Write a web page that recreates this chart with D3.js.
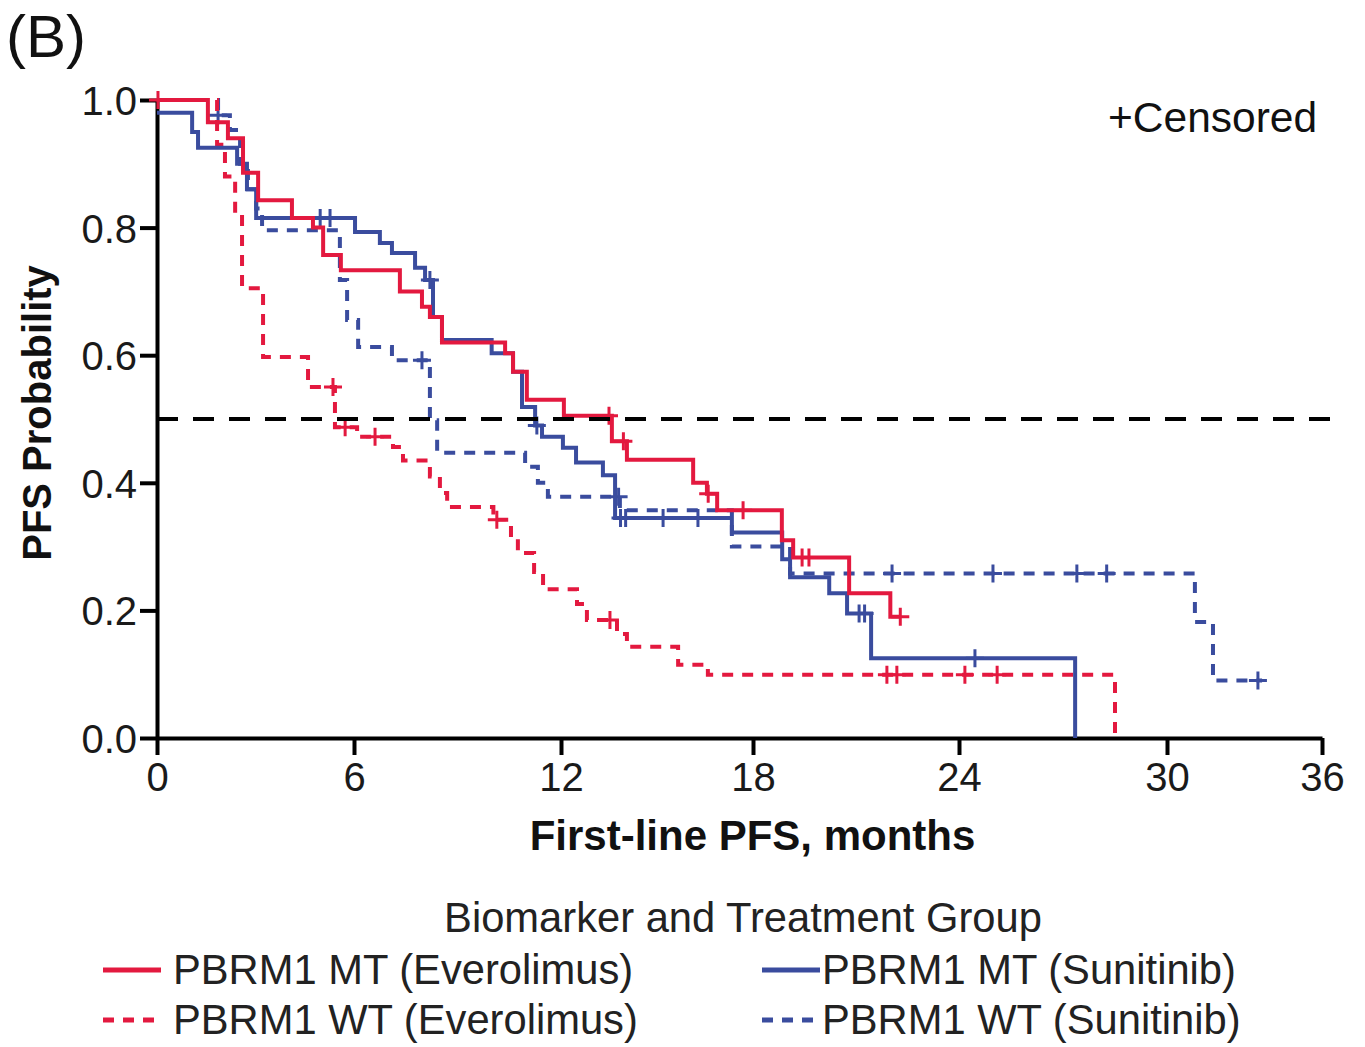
<!DOCTYPE html>
<html>
<head>
<meta charset="utf-8">
<script src="https://cdn.jsdelivr.net/npm/d3@7"></script>
<style>
  body { margin: 0; background: #fff; }
  svg { font-family: "Liberation Sans", Arial, sans-serif; }
</style>
</head>
<body>
<svg id="chart" width="1365" height="1047"></svg>
<script>
// axis ticks
const xTicks = [0, 6, 12, 18, 24, 30, 36];
const yTicks = [0, 0.2, 0.4, 0.6, 0.8, 1.0];

// PBRM1 MT (Everolimus) - step times (months) and PFS probability after each step
const mtEveTime = [0, 1.55, 2.16, 2.62, 3.08, 4.11, 4.75, 5.06, 5.60, 7.33, 7.97, 8.20, 8.55, 10.38, 10.61, 11.01, 12.09, 13.59, 14.06, 16.13, 16.56, 16.88, 18.84, 19.17, 20.80, 22.00, 22.29];
const mtEveSurv = [1.0, 0.965, 0.94, 0.886, 0.843, 0.815, 0.80, 0.757, 0.733, 0.70, 0.676, 0.66, 0.62, 0.603, 0.574, 0.53, 0.505, 0.465, 0.436, 0.40, 0.383, 0.357, 0.31, 0.283, 0.227, 0.19, 0.19];
const mtEveCensor = [0.03, 13.5, 13.95, 16.6, 17.69, 19.43, 19.63, 22.29];

// PBRM1 MT (Sunitinib)
const mtSunTime = [0, 1.07, 1.25, 2.44, 2.74, 3.02, 6.03, 6.75, 7.10, 7.77, 8.06, 8.29, 8.55, 9.99, 10.61, 10.87, 11.25, 11.45, 12.06, 12.47, 13.31, 13.69, 17.34, 18.85, 19.08, 20.22, 20.74, 21.44, 27.35];
const mtSunSurv = [0.98, 0.95, 0.925, 0.90, 0.86, 0.815, 0.793, 0.776, 0.76, 0.737, 0.718, 0.66, 0.624, 0.603, 0.574, 0.519, 0.49, 0.472, 0.455, 0.432, 0.412, 0.345, 0.322, 0.28, 0.252, 0.227, 0.195, 0.125, 0];
const mtSunCensor = [4.97, 5.27, 8.2, 11.3, 13.86, 14.02, 15.19, 16.28, 21.09, 21.25, 24.46];

// PBRM1 WT (Everolimus)
const wtEveTime = [0, 1.83, 2.07, 2.38, 2.59, 3.23, 4.60, 5.42, 6.09, 7.13, 7.42, 8.20, 8.49, 8.70, 10.04, 10.55, 10.75, 11.22, 11.48, 12.50, 12.81, 13.75, 14.06, 15.66, 16.59, 28.5];
const wtEveSurv = [1.0, 0.93, 0.88, 0.82, 0.705, 0.597, 0.55, 0.487, 0.472, 0.456, 0.435, 0.41, 0.384, 0.362, 0.342, 0.315, 0.29, 0.26, 0.233, 0.21, 0.185, 0.163, 0.143, 0.115, 0.099, 0];
const wtEveCensor = [5.36, 5.73, 6.61, 10.14, 13.53, 21.9, 22.19, 24.17, 25.1];

// PBRM1 WT (Sunitinib)
const wtSunTime = [0, 1.86, 2.22, 2.53, 2.77, 3.02, 3.20, 5.57, 5.79, 6.12, 7.10, 8.20, 8.41, 10.96, 11.33, 11.62, 13.84, 17.34, 19.08, 31.08, 31.78, 33.68];
const wtSunSurv = [1.0, 0.976, 0.953, 0.90, 0.86, 0.83, 0.796, 0.718, 0.655, 0.613, 0.592, 0.498, 0.447, 0.425, 0.40, 0.378, 0.357, 0.30, 0.258, 0.182, 0.09, 0.09];
const wtSunCensor = [1.86, 7.97, 13.8, 22.05, 24.98, 27.4, 28.26, 33.52];

const RED = "#e3193f";
const BLUE = "#3a4c9e";

const series = [
  { name: "PBRM1 WT (Sunitinib)", time: wtSunTime, surv: wtSunSurv, censor: wtSunCensor, color: BLUE, dashed: true },
  { name: "PBRM1 WT (Everolimus)", time: wtEveTime, surv: wtEveSurv, censor: wtEveCensor, color: RED, dashed: true },
  { name: "PBRM1 MT (Sunitinib)", time: mtSunTime, surv: mtSunSurv, censor: mtSunCensor, color: BLUE, dashed: false },
  { name: "PBRM1 MT (Everolimus)", time: mtEveTime, surv: mtEveSurv, censor: mtEveCensor, color: RED, dashed: false }
];

const svg = d3.select("#chart");

// the printed axis is not evenly spaced, so the scale follows the tick positions
const x = d3.scaleLinear().domain(xTicks).range([157, 354, 561, 753, 959, 1167, 1322]);
const y = d3.scaleLinear().domain([0, 1]).range([738, 100]);

// x axis
const gx = svg.append("g")
  .attr("transform", `translate(0, ${y(0)})`)
  .call(d3.axisBottom(x).tickValues(xTicks).tickFormat(d3.format("d")).tickSize(17).tickSizeOuter(0).tickPadding(8));

// y axis
const gy = svg.append("g")
  .attr("transform", `translate(${x(0)}, 0)`)
  .call(d3.axisLeft(y).tickValues(yTicks).tickFormat(d3.format(".1f")).tickSize(17).tickSizeOuter(0).tickPadding(3));

[gx, gy].forEach(g => {
  g.select(".domain").attr("stroke", "#000").attr("stroke-width", 4);
  g.selectAll(".tick line").attr("stroke", "#000").attr("stroke-width", 4);
  g.selectAll(".tick text").attr("fill", "#1a1a1a").style("font-size", "40px").style("font-family", "Liberation Sans, Arial, sans-serif");
});
gy.selectAll(".tick text").attr("dy", "0.36em");

// curves
const line = d3.line()
  .x(d => x(d[0]))
  .y(d => y(d[1]))
  .curve(d3.curveStepAfter);

const survAt = (s, t) => s.surv[Math.max(0, d3.bisectRight(s.time, t) - 1)];

series.forEach(s => {
  svg.append("path")
    .datum(s.time.map((t, i) => [t, s.surv[i]]))
    .attr("fill", "none")
    .attr("stroke", s.color)
    .attr("stroke-width", 4)
    .attr("stroke-dasharray", s.dashed ? "11,9" : null)
    .attr("d", line);

  svg.append("g")
    .selectAll("path")
    .data(s.censor)
    .join("path")
    .attr("d", t => {
      const cx = x(t), cy = y(survAt(s, t));
      return `M${cx - 9},${cy}H${cx + 9}M${cx},${cy - 9}V${cy + 9}`;
    })
    .attr("stroke", s.color)
    .attr("stroke-width", 3);
});

// median line
svg.append("line")
  .attr("x1", x(0)).attr("x2", 1336)
  .attr("y1", y(0.5)).attr("y2", y(0.5))
  .attr("stroke", "#000")
  .attr("stroke-width", 4)
  .attr("stroke-dasharray", "21,15");

// texts
svg.append("text").attr("x", 6).attr("y", 57).style("font-size", "60px").attr("fill", "#111").text("(B)");

svg.append("text").attr("x", 1108).attr("y", 132).style("font-size", "42.5px").attr("fill", "#111").text("+Censored");

svg.append("text")
  .attr("x", (x(0) + x(36)) / 2 + 13).attr("y", 850)
  .attr("text-anchor", "middle")
  .style("font-size", "42px").style("font-weight", "bold").attr("fill", "#111")
  .text("First-line PFS, months");

svg.append("text")
  .attr("transform", `translate(51, ${y(0.5) - 6}) rotate(-90)`)
  .attr("text-anchor", "middle")
  .style("font-size", "40px").style("font-weight", "bold").attr("fill", "#111")
  .text("PFS Probability");

// legend
svg.append("text")
  .attr("x", 743).attr("y", 932)
  .attr("text-anchor", "middle")
  .style("font-size", "41.7px").attr("fill", "#222")
  .text("Biomarker and Treatment Group");

const legendItems = [
  { s: series[3], lx: 103, tx: 173, ly: 970 },
  { s: series[1], lx: 103, tx: 173, ly: 1020 },
  { s: series[2], lx: 762, tx: 822, ly: 970 },
  { s: series[0], lx: 762, tx: 822, ly: 1020 }
];

const legend = svg.append("g");
legend.selectAll("line")
  .data(legendItems)
  .join("line")
  .attr("x1", d => d.lx).attr("x2", d => d.lx + 58)
  .attr("y1", d => d.ly).attr("y2", d => d.ly)
  .attr("stroke", d => d.s.color)
  .attr("stroke-width", 5)
  .attr("stroke-dasharray", d => d.s.dashed ? "11,9" : null);

legend.selectAll("text")
  .data(legendItems)
  .join("text")
  .attr("x", d => d.tx).attr("y", d => d.ly + 14)
  .style("font-size", "41.7px").attr("fill", "#222")
  .text(d => d.s.name);
</script>
</body>
</html>
